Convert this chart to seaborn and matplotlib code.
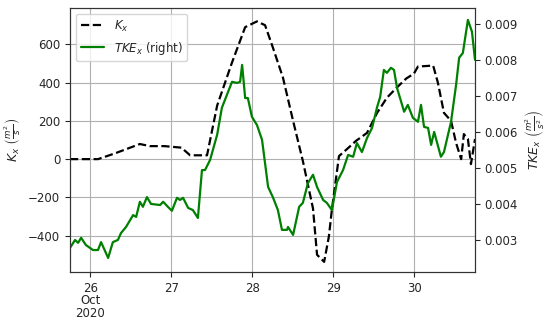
import pandas as pd
import seaborn as sns
import numpy as np
import matplotlib
matplotlib.use("Agg")
import matplotlib.pyplot as plt
import matplotlib.dates as mdates
from matplotlib.lines import Line2D

# data, hours after 2020-10-25 18:00
start = pd.Timestamp('2020-10-25 18:00')

kx_hours = [0, 8.3, 13.3, 20.7, 23.7, 28, 33, 35.6, 40.6, 43.6, 48, 51.9, 55.4, 57.8,
            60.1, 63.1, 66.1, 69, 72, 73.2, 75.3, 76.7, 77.6, 79.7, 82.1, 84.7, 88,
            91, 93.9, 96.6, 99.6, 101.9, 103.1, 107.6, 109, 110.8, 112.9, 114.4,
            115.9, 116.7, 117.9, 118.8, 120]
kx_vals = [0, 0, 30, 79, 68, 68, 60, 20, 20, 280, 505, 690, 720, 700,
           584, 426, 200, -10, -258, -500, -537, -405, -263, 16, 53, 95, 137,
           242, 321, 370, 421, 447, 484, 489, 400, 242, 200, 84,
           0, 131, 105, -26, 105]

tke_hours = [0, 1.5, 2.4, 3.3, 4.7, 6.8, 8.3, 9.2, 11.3, 12.7, 14.2, 15.1, 16.6, 18.7,
             19.6, 20.7, 21.6, 22.8, 24, 26.7, 27.6, 29, 30.2, 31.7, 32.6, 33.5, 35,
             36.4, 37.9, 39.1, 40, 41.5, 43.6, 45, 46.5, 48, 49.5, 50.4, 51, 51.9,
             52.7, 53.9, 55.4, 56.9, 58.7, 60.1, 61.6, 62.8, 64.3, 64.6, 66.1, 67.9,
             69, 70.5, 72, 73.2, 75, 76.1, 77.6, 79.1, 80.9, 82.4, 83.9, 85, 86.5,
             88, 89.5, 91, 91.9, 93, 93.9, 95.1, 96, 96.9, 99, 100.1, 101.6, 103.1,
             104, 104.9, 106.1, 107, 107.9, 109.9, 110.8, 112.9, 114.4, 115.3,
             116.4, 117.9, 119.1, 120]
tke_vals = [0.00278, 0.00300, 0.00292, 0.00306, 0.00286, 0.00272, 0.00272, 0.00294,
            0.00250, 0.00294, 0.00300, 0.00319, 0.00336, 0.00369, 0.00364, 0.00406,
            0.00392, 0.00419, 0.00400, 0.00397, 0.00406, 0.00392, 0.00381, 0.00417,
            0.00411, 0.00417, 0.00389, 0.00383, 0.00361, 0.00494, 0.00494, 0.00522,
            0.00592, 0.00667, 0.00703, 0.00739, 0.00736, 0.00739, 0.00786, 0.00694,
            0.00694, 0.00642, 0.00619, 0.00578, 0.00447, 0.00419, 0.00383, 0.00328,
            0.00328, 0.00336, 0.00314, 0.00392, 0.00403, 0.00458, 0.00481, 0.00447,
            0.00411, 0.00403, 0.00383, 0.00461, 0.00494, 0.00536, 0.00531, 0.00569,
            0.00544, 0.00583, 0.00611, 0.00669, 0.00697, 0.00772, 0.00764, 0.00778,
            0.00772, 0.00722, 0.00656, 0.00675, 0.00639, 0.00628, 0.00675, 0.00614,
            0.00611, 0.00564, 0.00600, 0.00531, 0.00544, 0.00628, 0.00731, 0.00806,
            0.00819, 0.00911, 0.00878, 0.00800]

kx_df = pd.DataFrame({'time': start + pd.to_timedelta(kx_hours, unit='h'), 'Kx': kx_vals})
tke_df = pd.DataFrame({'time': start + pd.to_timedelta(tke_hours, unit='h'), 'TKE': tke_vals})

sns.set_style('ticks')
plt.rcParams['font.family'] = ['DejaVu Sans']
plt.rcParams['font.size'] = 8.5

fig = plt.figure(figsize=(5.5, 3.21), dpi=100)
ax = fig.add_axes([70 / 550, 1 - 272 / 321, 405 / 550, 264 / 321])
ax2 = ax.twinx()

sns.lineplot(data=kx_df, x='time', y='Kx', ax=ax, color='black', linestyle='--', lw=1.6)
sns.lineplot(data=tke_df, x='time', y='TKE', ax=ax2, color='green', lw=1.6)

ax.set_xlim(start, start + pd.Timedelta(hours=120))
ax.set_ylim(-590, 790)
ax2.set_ylim(0.00211, 0.00944)

ax.set_yticks([-400, -200, 0, 200, 400, 600])
ax2.set_yticks([0.003, 0.004, 0.005, 0.006, 0.007, 0.008, 0.009])

# pandas style date labels
ax.xaxis.set_major_locator(mdates.DayLocator())
def fmt_day(x, pos):
    d = mdates.num2date(x)
    if d.day == 26:
        return '26\nOct\n2020'
    return str(d.day)
ax.xaxis.set_major_formatter(plt.FuncFormatter(fmt_day))

ax.grid(True, color='#b0b0b0', lw=0.8)
ax.set_xlabel('')
ax.set_ylabel(r'$K_x\ \left(\frac{m^2}{s}\right)$', fontsize=9)
ax2.set_ylabel(r'$TKE_x\ \left(\frac{m^2}{s^2}\right)$', fontsize=9)
for a in (ax, ax2):
    a.tick_params(labelsize=8.5, length=3.5)
    for s in a.spines.values():
        s.set_color('#333333')

handles = [Line2D([], [], color='black', linestyle='--', lw=1.6),
           Line2D([], [], color='green', lw=1.6)]
ax2.legend(handles, [r'$K_x$', r'$TKE_x$ (right)'], loc='upper left', fontsize=8.5,
           framealpha=0.8)

fig.canvas.draw()
for lab in ax.get_xticklabels():
    lab.set_linespacing(0.95)

fig.savefig('out.png', dpi=100)
